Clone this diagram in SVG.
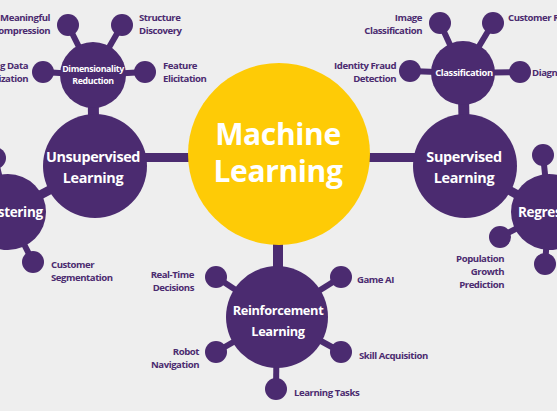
<svg xmlns="http://www.w3.org/2000/svg" width="557" height="411" viewBox="0 0 557 411">
<style>
.bg{fill:#eeeeee}
.p{fill:#4b2b70}
.c line{stroke:#4b2b70;stroke-linecap:butt}
.bar{stroke-width:9}
.sp{stroke-width:6}
.t{font-family:"Open Sans","Noto Sans","Liberation Sans",sans-serif;font-weight:700}
.w{fill:#ffffff;text-anchor:middle;letter-spacing:-0.35px}
.l{fill:#4b2b70;font-size:9.6px;letter-spacing:-0.45px}
.r{text-anchor:end}
</style>
<rect class="bg" x="0" y="0" width="557" height="411"/>
<g id="connectors" class="c">
<line class="bar" x1="279" y1="157.5" x2="95" y2="157.5"/>
<line class="bar" x1="279" y1="157.5" x2="465" y2="157.5"/>
<line class="bar" x1="278" y1="154" x2="278" y2="317" style="stroke-width:10"/>
<line x1="93" y1="75" x2="94" y2="166" style="stroke-width:11"/>
<line x1="463" y1="73" x2="465" y2="166" style="stroke-width:11"/>
<line class="bar" x1="8" y1="212" x2="95" y2="166"/>
<line class="bar" x1="549" y1="212" x2="465" y2="166"/>
<line class="sp" x1="93" y1="75" x2="68" y2="25"/>
<line class="sp" x1="93" y1="75" x2="122" y2="25"/>
<line class="sp" x1="93" y1="75" x2="43" y2="72"/>
<line class="sp" x1="93" y1="75" x2="145" y2="72"/>
<line class="sp" x1="463" y1="73" x2="440" y2="23"/>
<line class="sp" x1="463" y1="73" x2="493" y2="23"/>
<line class="sp" x1="463" y1="73" x2="410" y2="71"/>
<line class="sp" x1="463" y1="73" x2="520" y2="72"/>
<line class="sp" x1="8" y1="212" x2="-5" y2="158"/>
<line class="sp" x1="8" y1="212" x2="33" y2="262"/>
<line class="sp" x1="549" y1="212" x2="543" y2="155"/>
<line class="sp" x1="549" y1="212" x2="500" y2="237"/>
<line class="sp" x1="549" y1="212" x2="545" y2="264"/>
<line class="sp" x1="277" y1="317" x2="216" y2="277"/>
<line class="sp" x1="277" y1="317" x2="341" y2="277"/>
<line class="sp" x1="277" y1="317" x2="216" y2="352"/>
<line class="sp" x1="277" y1="317" x2="341" y2="352"/>
<line class="sp" x1="277" y1="317" x2="276" y2="389"/>
</g>
<g id="machine-learning">
<circle cx="279" cy="154" r="91" fill="#fecb06"/>
<text class="t w" x="278" y="145" font-size="30" font-weight="600" letter-spacing="0">Machine</text>
<text class="t w" x="278" y="182" font-size="30" font-weight="600" letter-spacing="0">Learning</text>
</g>
<g id="unsupervised">
<circle class="p" cx="95" cy="166" r="52"/>
<text class="t w" x="93" y="162" font-size="14.4">Unsupervised</text>
<text class="t w" x="93" y="183" font-size="14.4">Learning</text>
</g>
<g id="supervised">
<circle class="p" cx="465" cy="166" r="52"/>
<text class="t w" x="464" y="162" font-size="14.4">Supervised</text>
<text class="t w" x="464" y="183" font-size="14.4">Learning</text>
</g>
<g id="reinforcement">
<circle class="p" cx="277" cy="317" r="51"/>
<text class="t w" x="278" y="315" font-size="12.8">Reinforcement</text>
<text class="t w" x="278" y="336" font-size="12.8">Learning</text>
</g>
<g id="dimensionality">
<circle class="p" cx="93" cy="75" r="33"/>
<text class="t w" x="93" y="72" font-size="8.8" letter-spacing="-0.3">Dimensionality</text>
<text class="t w" x="93" y="84" font-size="8.8" letter-spacing="-0.3">Reduction</text>
</g>
<g id="classification">
<circle class="p" cx="463" cy="73" r="32"/>
<text class="t w" x="464" y="76" font-size="9.4" letter-spacing="-0.3">Classification</text>
</g>
<g id="clustering">
<circle class="p" cx="8" cy="212" r="38"/>
<text class="t w" x="10" y="217" font-size="13.5">Clustering</text>
</g>
<g id="regression">
<circle class="p" cx="549" cy="212" r="38"/>
<text class="t w" x="553" y="217" font-size="13.5">Regression</text>
</g>
<g id="meaningful-compression">
<circle class="p" cx="68" cy="25" r="11"/>
<text class="t l r" x="50" y="21">Meaningful</text>
<text class="t l r" x="50" y="34">Compression</text>
</g>
<g id="structure-discovery">
<circle class="p" cx="122" cy="25" r="11"/>
<text class="t l" x="139" y="21">Structure</text>
<text class="t l" x="139" y="34">Discovery</text>
</g>
<g id="big-data">
<circle class="p" cx="43" cy="72" r="11"/>
<text class="t l r" x="28" y="69">Big Data</text>
<text class="t l r" x="28" y="82">Visualization</text>
</g>
<g id="feature-elicitation">
<circle class="p" cx="145" cy="72" r="11"/>
<text class="t l" x="163" y="69">Feature</text>
<text class="t l" x="163" y="82">Elicitation</text>
</g>
<g id="image-classification">
<circle class="p" cx="440" cy="23" r="11"/>
<text class="t l r" x="422" y="21">Image</text>
<text class="t l r" x="422" y="34">Classification</text>
</g>
<g id="customer-retention">
<circle class="p" cx="493" cy="23" r="11"/>
<text class="t l" x="508" y="21">Customer Retention</text>
</g>
<g id="identity-fraud">
<circle class="p" cx="410" cy="71" r="11"/>
<text class="t l r" x="396" y="69">Identity Fraud</text>
<text class="t l r" x="396" y="82">Detection</text>
</g>
<g id="diagnostics">
<circle class="p" cx="520" cy="72" r="11"/>
<text class="t l" x="532" y="76">Diagnostics</text>
</g>
<g id="clustering-top">
<circle class="p" cx="-5" cy="158" r="11"/>
</g>
<g id="customer-segmentation">
<circle class="p" cx="33" cy="262" r="11"/>
<text class="t l" x="51" y="268">Customer</text>
<text class="t l" x="51" y="281">Segmentation</text>
</g>
<g id="regression-top">
<circle class="p" cx="543" cy="155" r="11"/>
</g>
<g id="population-growth">
<circle class="p" cx="500" cy="237" r="11"/>
<text class="t l r" x="504" y="262">Population</text>
<text class="t l r" x="504" y="275">Growth</text>
<text class="t l r" x="504" y="288">Prediction</text>
</g>
<g id="regression-bottom">
<circle class="p" cx="545" cy="264" r="11"/>
</g>
<g id="real-time">
<circle class="p" cx="216" cy="277" r="11"/>
<text class="t l r" x="194" y="278">Real-Time</text>
<text class="t l r" x="194" y="291">Decisions</text>
</g>
<g id="game-ai">
<circle class="p" cx="341" cy="277" r="11"/>
<text class="t l" x="357" y="283">Game AI</text>
</g>
<g id="robot-navigation">
<circle class="p" cx="216" cy="352" r="11"/>
<text class="t l r" x="199" y="355">Robot</text>
<text class="t l r" x="199" y="368">Navigation</text>
</g>
<g id="skill-acquisition">
<circle class="p" cx="341" cy="352" r="11"/>
<text class="t l" x="359" y="359">Skill Acquisition</text>
</g>
<g id="learning-tasks">
<circle class="p" cx="276" cy="389" r="11"/>
<text class="t l" x="294" y="396">Learning Tasks</text>
</g>
</svg>
